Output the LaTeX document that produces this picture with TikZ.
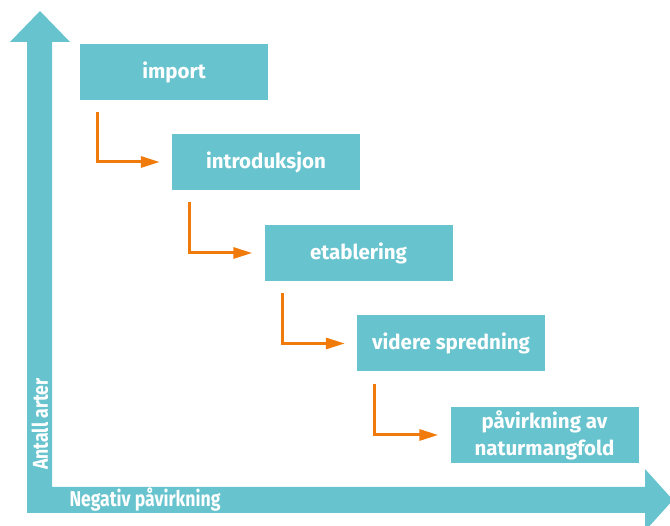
\documentclass[tikz,border=0pt]{standalone}
\usepackage{fontspec}
\setmainfont{Fira Sans}
\newfontfamily\axisfont{Fira Sans}[FakeStretch=0.82]
\usetikzlibrary{arrows.meta,positioning}

\definecolor{boxteal}{RGB}{103,195,205}
\definecolor{flowor}{RGB}{240,122,10}

\tikzset{
  stage/.style={fill=boxteal, text=white, minimum width=188pt, minimum height=56pt,
    inner sep=0pt, align=center, font=\fontsize{20.5}{27}\selectfont\bfseries},
  flow/.style={draw=flowor, line width=3pt, -{Triangle[length=19pt,width=11pt]}},
  axislabel/.style={text=white, inner sep=0pt, font=\axisfont\fontsize{21.5}{24}\selectfont\bfseries}
}

\begin{document}
\begin{tikzpicture}[x=1pt,y=-1pt]

  % Fix the size of the picture
  \useasboundingbox (0,0) rectangle (670,526);

  % Draw the axes as one shape
  \fill[boxteal] (27,513) -- (27,42) -- (10,42) -- (40,11) -- (70,42) -- (52,42)
    -- (52,487) -- (645,487) -- (645,469) -- (673,500) -- (645,531) -- (645,513) -- cycle;

  % Axis labels
  \node[axislabel, rotate=90] (yl) at (40,424) {Antall arter};
  \node[axislabel] (xl) at (145,500) {Negativ påvirkning};

  % Stages, one step down and right each time
  \node[stage] (imp) at (174,72) {import};
  \node[stage] (intro) at (266,162) {introduksjon};
  \node[stage] (etab) at (358.5,253) {etablering};
  \node[stage] (spred) at (451,343.5) {videre spredning};
  \node[stage] (natur) at (544.5,435) {påvirkning av\\naturmangfold};

  % Arrows between the stages
  \draw[flow] ([xshift=18pt,yshift=-12pt]imp.south west) |- ([xshift=-12pt]intro.west);
  \draw[flow] ([xshift=18pt,yshift=-12pt]intro.south west) |- ([xshift=-12pt]etab.west);
  \draw[flow] ([xshift=18pt,yshift=-12pt]etab.south west) |- ([xshift=-12pt]spred.west);
  \draw[flow] ([xshift=18pt,yshift=-12pt]spred.south west) |- ([xshift=-12pt]natur.west);

\end{tikzpicture}
\end{document}
